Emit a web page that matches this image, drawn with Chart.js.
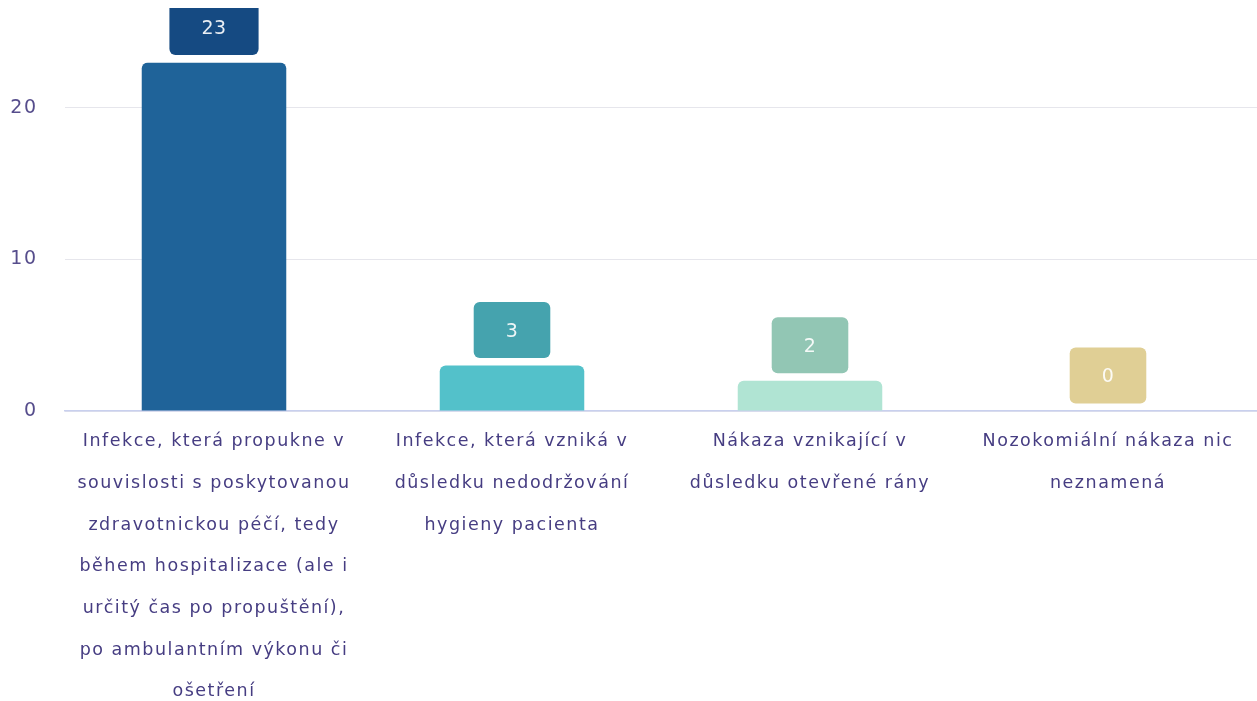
<!DOCTYPE html>
<html>
<head>
<meta charset="utf-8">
<script src="https://cdn.jsdelivr.net/npm/chart.js@4"></script>
<style>
  html, body { margin: 0; padding: 0; background: #ffffff; }
  #wrap { position: absolute; left: 8px; top: 8px; width: 1249px; height: 693px; }
</style>
</head>
<body>
<div id="wrap"><canvas id="c"></canvas></div>
<script>
const categories = [
  ["Infekce, která propukne v", "souvislosti s poskytovanou", "zdravotnickou péčí, tedy", "během hospitalizace (ale i", "určitý čas po propuštění),", "po ambulantním výkonu či", "ošetření"],
  ["Infekce, která vzniká v", "důsledku nedodržování", "hygieny pacienta"],
  ["Nákaza vznikající v", "důsledku otevřené rány"],
  ["Nozokomiální nákaza nic", "neznamená"]
];
const values = [23, 3, 2, 0];
const yTicks = [0, 10, 20];

const barColors = ["#1f6399", "#53c1ca", "#b0e4d3", "#f3e5b0"];
const boxColors = ["#154a82", "#45a3ae", "#92c6b4", "#e0cf95"];
const FONT = "'DejaVu Sans', sans-serif";
const SPACING = '1.5px';

const spacingPlugin = {
  id: 'spacing',
  beforeUpdate(chart) { chart.ctx.letterSpacing = SPACING; },
  beforeDraw(chart) { chart.ctx.letterSpacing = SPACING; }
};

const boxLabels = {
  id: 'boxLabels',
  afterDatasetsDraw(chart) {
    const ctx = chart.ctx;
    const meta = chart.getDatasetMeta(0);
    ctx.save();
    ctx.letterSpacing = '0.5px';
    ctx.font = "19px " + FONT;
    meta.data.forEach((bar, i) => {
      const txt = String(values[i]);
      const tw = ctx.measureText(txt).width;
      const w = tw + 64;
      const h = 56;
      const x = bar.x - w / 2;
      const y = bar.y - 7.5 - h;
      ctx.fillStyle = boxColors[i];
      ctx.beginPath();
      ctx.roundRect(x, y, w, h, 6);
      ctx.fill();
      ctx.fillStyle = "rgba(255,255,255,0.9)";
      ctx.textAlign = "center";
      ctx.textBaseline = "middle";
      ctx.fillText(txt, bar.x, y + h / 2 + 2);
    });
    ctx.restore();
  }
};

new Chart(document.getElementById('c'), {
  type: 'bar',
  data: {
    labels: categories,
    datasets: [{
      data: values,
      backgroundColor: barColors,
      borderRadius: 6,
      borderSkipped: 'start',
      categoryPercentage: 1,
      barPercentage: 0.485
    }]
  },
  options: {
    responsive: true,
    maintainAspectRatio: false,
    animation: false,
    layout: { padding: { top: 54.5, left: 0, right: 0, bottom: 0 } },
    plugins: { legend: { display: false }, tooltip: { enabled: false } },
    scales: {
      x: {
        grid: { display: false },
        border: { display: true, color: '#c9d0ee', width: 1.5 },
        ticks: {
          color: '#463d82',
          font: { family: FONT, size: 17.5, lineHeight: 2.38 },
          padding: 2,
          maxRotation: 0,
          autoSkip: false
        },
        afterFit(scale) { scale.height = 290; }
      },
      y: {
        min: 0,
        max: Math.max(...values),
        afterBuildTicks(scale) { scale.ticks = yTicks.map(v => ({ value: v })); },
        grid: { color: '#e6e6ec', lineWidth: 1, drawTicks: false },
        border: { display: false },
        ticks: {
          color: '#564d8c',
          font: { family: FONT, size: 19 },
          padding: 27.5
        },
        afterFit(scale) { scale.width = 57; }
      }
    }
  },
  plugins: [spacingPlugin, boxLabels]
});
</script>
</body>
</html>
